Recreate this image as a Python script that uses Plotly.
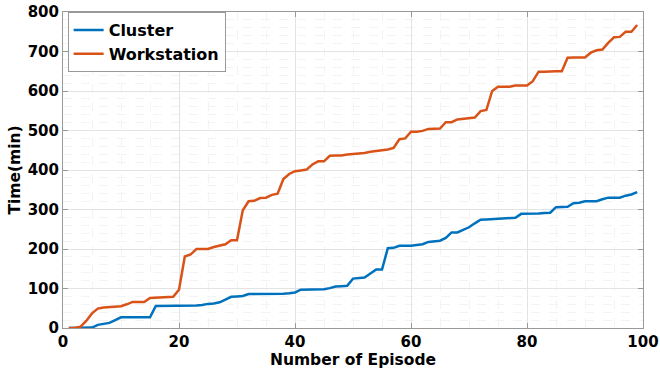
import plotly.graph_objects as go

episodes = list(range(1, 100))
cluster = [0, 0, 0, 0, 1, 8, 11, 13, 20, 27,
           27, 27, 27, 27, 27, 56, 56, 57, 57, 57,
           57, 57, 57, 58, 61, 62, 65, 72, 79, 80,
           81, 86, 86, 86, 86, 87, 87, 87, 88, 90,
           97, 97, 97, 97, 98, 101, 105, 106, 107, 125,
           126, 128, 138, 148, 148, 202, 203, 208, 208, 208,
           210, 212, 218, 220, 221, 228, 242, 242, 248, 255,
           265, 274, 275, 276, 277, 278, 279, 279, 289, 289,
           290, 290, 291, 292, 306, 306, 307, 316, 317, 321,
           321, 321, 326, 330, 330, 330, 335, 338, 344]
workstation = [0, 0, 3, 18, 37, 49, 52, 53, 54, 55,
               60, 66, 66, 66, 76, 77, 78, 78, 79, 97,
               181, 186, 200, 200, 200, 205, 208, 212, 222, 222,
               298, 321, 322, 329, 330, 337, 340, 377, 390, 397,
               399, 401, 414, 422, 422, 436, 437, 437, 439, 440,
               441, 443, 446, 448, 449, 452, 456, 478, 480, 497,
               497, 499, 504, 505, 505, 521, 521, 528, 530, 531,
               533, 549, 552, 600, 611, 611, 611, 614, 614, 614,
               625, 649, 649, 650, 650, 650, 684, 685, 685, 685,
               697, 703, 705, 722, 736, 737, 750, 750, 767]

FONT = "DejaVu Sans"
fig = go.Figure()
fig.add_trace(go.Scatter(x=episodes, y=cluster, mode="lines", name="Cluster",
                         line=dict(color="#0072BD", width=2.5)))
fig.add_trace(go.Scatter(x=episodes, y=workstation, mode="lines", name="Workstation",
                         line=dict(color="#D95319", width=2.5)))

axis_common = dict(showline=True, linecolor="#999999", linewidth=1, mirror="ticks",
                   ticks="inside", ticklen=5, tickcolor="#999999", automargin=False,
                   gridcolor="#e3e3e3", gridwidth=1, zeroline=False,
                   tickfont=dict(family=FONT, size=15, color="black", weight="bold"))

fig.update_xaxes(range=[0, 100], dtick=20, tick0=0,
                 title=dict(text="<b>Number of Episode</b>", font=dict(family=FONT, size=15.5, color="black"), standoff=3),
                 minor=dict(dtick=5, showgrid=True, griddash="dash", gridcolor="#f3f3f3", ticks=""),
                 **axis_common)
fig.update_yaxes(range=[0, 800], dtick=100, tick0=0,
                 title=dict(text="<b>Time(min)</b>", font=dict(family=FONT, size=15.5, color="black"), standoff=3),
                 minor=dict(dtick=20, showgrid=True, griddash="dash", gridcolor="#f3f3f3", ticks=""),
                 **axis_common)

fig.update_layout(width=660, height=372,
                  margin=dict(l=63, r=17, t=12, b=44, autoexpand=False),
                  paper_bgcolor="white", plot_bgcolor="white",
                  font=dict(family=FONT, color="black"),
                  legend=dict(x=0.008, y=1.0, xanchor="left", yanchor="top",
                              bgcolor="white", bordercolor="#999999", borderwidth=1,
                              font=dict(family=FONT, size=16, color="black", weight="bold"),
                              itemwidth=30, tracegroupgap=0),
                  showlegend=True)

fig.write_html("out.html", config={"displayModeBar": False},
               post_script="document.body.style.margin='0';document.body.style.overflow='hidden';")
